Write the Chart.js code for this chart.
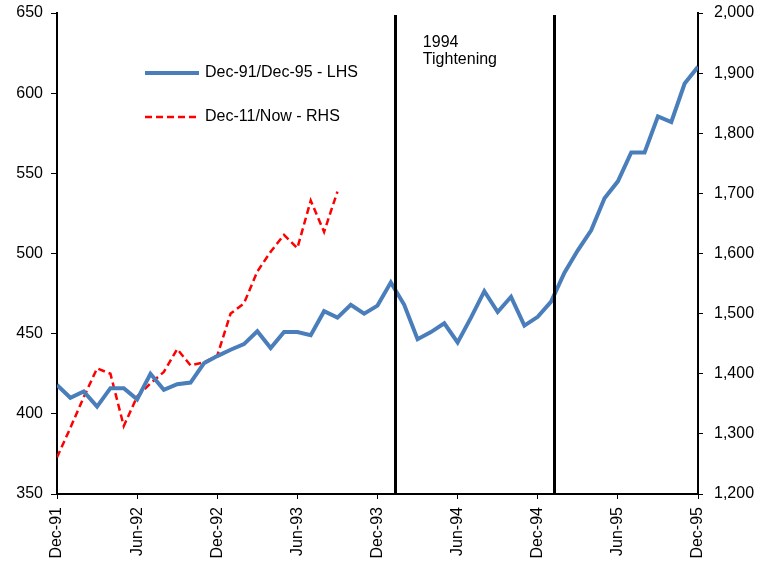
<!DOCTYPE html>
<html>
<head>
<meta charset="utf-8">
<script src="https://cdn.jsdelivr.net/npm/chart.js@4.4.0/dist/chart.umd.min.js"></script>
<style>
  html, body { margin: 0; padding: 0; background: #fff; }
  #wrap { width: 771px; height: 563px; }
</style>
</head>
<body>
<div id="wrap"><canvas id="chart" width="771" height="563"></canvas></div>
<script>
// monthly labels, Dec-91 .. Dec-95
const months = [
  'Dec-91', 'Jan-92', 'Feb-92', 'Mar-92', 'Apr-92', 'May-92', 'Jun-92', 'Jul-92', 'Aug-92', 'Sep-92', 'Oct-92', 'Nov-92',
  'Dec-92', 'Jan-93', 'Feb-93', 'Mar-93', 'Apr-93', 'May-93', 'Jun-93', 'Jul-93', 'Aug-93', 'Sep-93', 'Oct-93', 'Nov-93',
  'Dec-93', 'Jan-94', 'Feb-94', 'Mar-94', 'Apr-94', 'May-94', 'Jun-94', 'Jul-94', 'Aug-94', 'Sep-94', 'Oct-94', 'Nov-94',
  'Dec-94', 'Jan-95', 'Feb-95', 'Mar-95', 'Apr-95', 'May-95', 'Jun-95', 'Jul-95', 'Aug-95', 'Sep-95', 'Oct-95', 'Nov-95',
  'Dec-95'
];

// Dec-91/Dec-95, left axis
const cycle9195 = [
  418, 410, 414, 404.5, 416, 416, 409, 425, 415, 418.5, 419.5, 431.5,
  436, 440, 443.5, 451.5, 441, 451, 451, 449, 464, 460, 468, 462.5,
  467.5, 482, 468, 446.5, 451, 456.5, 444.5, 460, 476.5, 463.5, 473, 455,
  460.5, 470, 488, 502, 514.5, 534.5, 545, 563, 563, 585.5, 582, 606,
  616.5
];

// Dec-11/Now, right axis
const cycle11Now = [
  1261, 1310, 1361, 1409, 1400, 1313, 1362, 1384, 1403, 1441, 1414, 1419,
  1430, 1500, 1517, 1570, 1603, 1631, 1609, 1688, 1636, 1703
];

// 1994 tightening period, in months from Dec-91
const tightening = [25.3, 37.2];

const leftTicks = [350, 650, 50];
const rightTicks = [1200, 2000, 100];

const FONT = 'Liberation Sans, Arial, sans-serif';

const overlay = {
  id: 'overlay',
  afterDatasetsDraw(chart) {
    const ctx = chart.ctx;
    const area = chart.chartArea;
    const x = chart.scales.x;

    // tightening markers
    ctx.save();
    ctx.strokeStyle = '#000';
    ctx.lineWidth = 3;
    tightening.forEach((m) => {
      const px = Math.round(x.getPixelForValue(m)) + 0.5;
      ctx.beginPath();
      ctx.moveTo(px, area.top + 2);
      ctx.lineTo(px, area.bottom);
      ctx.stroke();
    });

    ctx.fillStyle = '#000';
    ctx.font = '16px ' + FONT;
    ctx.textBaseline = 'middle';
    const tx = x.getPixelForValue(tightening[0]) + 28;
    ctx.fillText('1994', tx, area.top + 30);
    ctx.fillText('Tightening', tx, area.top + 47);

    // legend inside plot
    const lx = area.left + 88;
    chart.data.datasets.forEach((ds, i) => {
      const ly = area.top + 60 + i * 44;
      ctx.beginPath();
      ctx.strokeStyle = ds.borderColor;
      ctx.lineWidth = ds.borderWidth;
      ctx.setLineDash(ds.borderDash || []);
      ctx.moveTo(lx, ly);
      ctx.lineTo(lx + 54, ly);
      ctx.stroke();
      ctx.setLineDash([]);
      ctx.fillStyle = '#000';
      ctx.fillText(ds.label, lx + 60, ly);
    });
    ctx.restore();
  }
};

const fixWidth = (w) => (s) => {
  s.width = w;
  s.paddingTop = 0;
  s.paddingBottom = 0;
};

new Chart(document.getElementById('chart'), {
  type: 'line',
  data: {
    labels: months.map((_, i) => i),
    datasets: [
      {
        label: 'Dec-91/Dec-95 - LHS',
        data: cycle9195,
        yAxisID: 'y',
        borderColor: '#4A7EBB',
        borderWidth: 4,
        pointRadius: 0,
        tension: 0,
        fill: false
      },
      {
        label: 'Dec-11/Now - RHS',
        data: cycle11Now,
        yAxisID: 'y1',
        borderColor: '#FF0000',
        borderWidth: 2.5,
        borderDash: [7, 4],
        pointRadius: 0,
        tension: 0,
        fill: false
      }
    ]
  },
  options: {
    responsive: false,
    animation: false,
    layout: { padding: { top: 13, left: 0, right: 0, bottom: 0 } },
    plugins: {
      legend: { display: false },
      tooltip: { enabled: false }
    },
    scales: {
      x: {
        type: 'linear',
        min: 0,
        max: months.length - 1,
        afterFit: (s) => { s.height = 69; },
        border: { color: '#000', width: 2 },
        grid: { drawOnChartArea: false, color: '#000', tickLength: 5 },
        ticks: {
          stepSize: 6,
          autoSkip: false,
          maxRotation: 90,
          minRotation: 90,
          padding: 8,
          color: '#000',
          font: { family: FONT, size: 16 },
          callback: (v) => months[v]
        }
      },
      y: {
        position: 'left',
        min: leftTicks[0],
        max: leftTicks[1],
        afterFit: fixWidth(57),
        border: { color: '#000', width: 2 },
        grid: { drawOnChartArea: false, color: '#000', tickLength: 6 },
        ticks: {
          stepSize: leftTicks[2],
          padding: 8,
          color: '#000',
          font: { family: FONT, size: 16 }
        }
      },
      y1: {
        position: 'right',
        min: rightTicks[0],
        max: rightTicks[1],
        afterFit: fixWidth(73),
        border: { color: '#000', width: 2 },
        grid: { drawOnChartArea: false, color: '#000', tickLength: 5 },
        ticks: {
          stepSize: rightTicks[2],
          padding: 11,
          color: '#000',
          font: { family: FONT, size: 16 },
          callback: (v) => v.toLocaleString('en-US')
        }
      }
    }
  },
  plugins: [overlay]
});
</script>
</body>
</html>
